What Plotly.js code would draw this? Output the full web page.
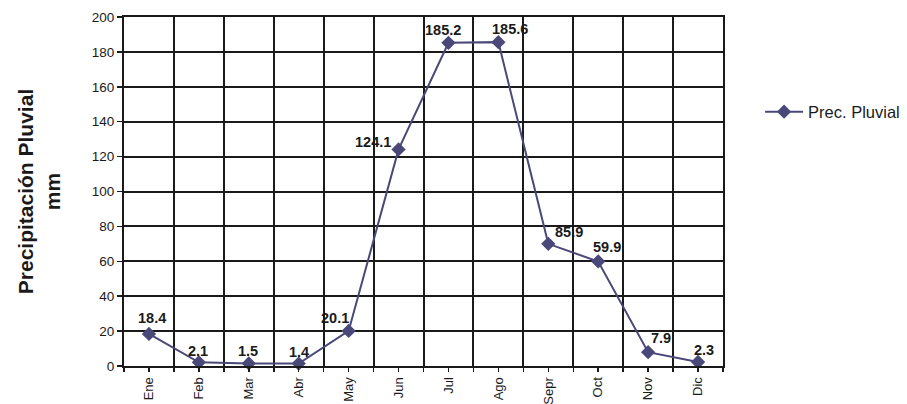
<!DOCTYPE html>
<html>
<head>
<meta charset="utf-8">
<script src="https://cdn.plot.ly/plotly-3.0.1.min.js"></script>
<style>html,body{margin:0;padding:0;background:#fff;}#chart{width:907px;height:404px;}</style>
</head>
<body>
<div id="chart"></div>
<script>
// Data
const months = ["Ene","Feb","Mar","Abr","May","Jun","Jul","Ago","Sepr","Oct","Nov","Dic"];
// plotted positions as drawn in the picture
const precip = [18.4, 2.1, 1.5, 1.4, 20.1, 124.1, 185.2, 185.6, 70.0, 59.9, 7.9, 2.3];
// value labels as printed in the picture
const valueLabels = ["18.4","2.1","1.5","1.4","20.1","124.1","185.2","185.6","85.9","59.9","7.9","2.3"];
const yTicks = [0, 20, 40, 60, 80, 100, 120, 140, 160, 180, 200];

// label offsets in pixels (style only)
const labelDx = [3, -1, -1, 0, -14, -26, -5, 12, 21, 9, 13, 6];
const labelDy = [16, 11, 12, 12, 13, 7, 13, 13, 12, 14, 14, 12];

const idx = months.map((m, i) => i);
const FONT = 'Liberation Sans, Arial, sans-serif';
const INK = '#1a1a1a';
const LINE = '#4a4879';

const trace = {
  x: idx,
  y: precip,
  type: 'scatter',
  mode: 'lines+markers',
  name: 'Prec. Pluvial',
  line: {color: LINE, width: 2},
  marker: {symbol: 'diamond', size: 11, color: LINE},
  cliponaxis: false
};

const annotations = idx.map(i => ({
  x: i, y: precip[i], xref: 'x', yref: 'y',
  text: valueLabels[i], showarrow: false,
  xanchor: 'center', yanchor: 'middle',
  xshift: labelDx[i], yshift: labelDy[i],
  font: {family: FONT, size: 14.5, color: INK, weight: 'bold'}
}));

const layout = {
  width: 907, height: 404,
  margin: {l: 124, r: 184, t: 17, b: 38, autoexpand: false},
  paper_bgcolor: '#fff', plot_bgcolor: '#fff',
  font: {family: FONT, color: INK},
  showlegend: true,
  legend: {xref: 'container', x: 0.838, y: 0.728, xanchor: 'left', yanchor: 'middle', itemwidth: 38,
           font: {size: 16.5, color: INK}, bgcolor: 'rgba(0,0,0,0)'},
  annotations: annotations,
  xaxis: {
    range: [-0.5, 11.5],
    tickmode: 'array', tickvals: idx, ticktext: months,
    tickangle: -90,
    tickfont: {size: 13, color: INK},
    ticks: 'outside', ticklen: 4, tickwidth: 1.5, tickcolor: INK,
    showgrid: false, zeroline: false,
    showline: true, linecolor: INK, linewidth: 2, mirror: true,
    minor: {tick0: -0.5, dtick: 1, showgrid: true, gridcolor: INK, gridwidth: 2,
            ticks: 'outside', ticklen: 4, tickcolor: INK, tickwidth: 1.5}
  },
  yaxis: {
    range: [0, 200],
    tickmode: 'array', tickvals: yTicks,
    tickfont: {size: 13.5, color: INK},
    ticks: 'outside', ticklen: 5, tickwidth: 1.5, tickcolor: INK,
    showgrid: true, gridcolor: INK, gridwidth: 2,
    zeroline: false,
    showline: true, linecolor: INK, linewidth: 2, mirror: true,
    title: {text: 'Precipitación Pluvial<br>mm', font: {size: 21, color: INK, weight: 'bold'}, standoff: 25}
  }
};

Plotly.newPlot('chart', [trace], layout, {displayModeBar: false, staticPlot: true});
</script>
</body>
</html>
